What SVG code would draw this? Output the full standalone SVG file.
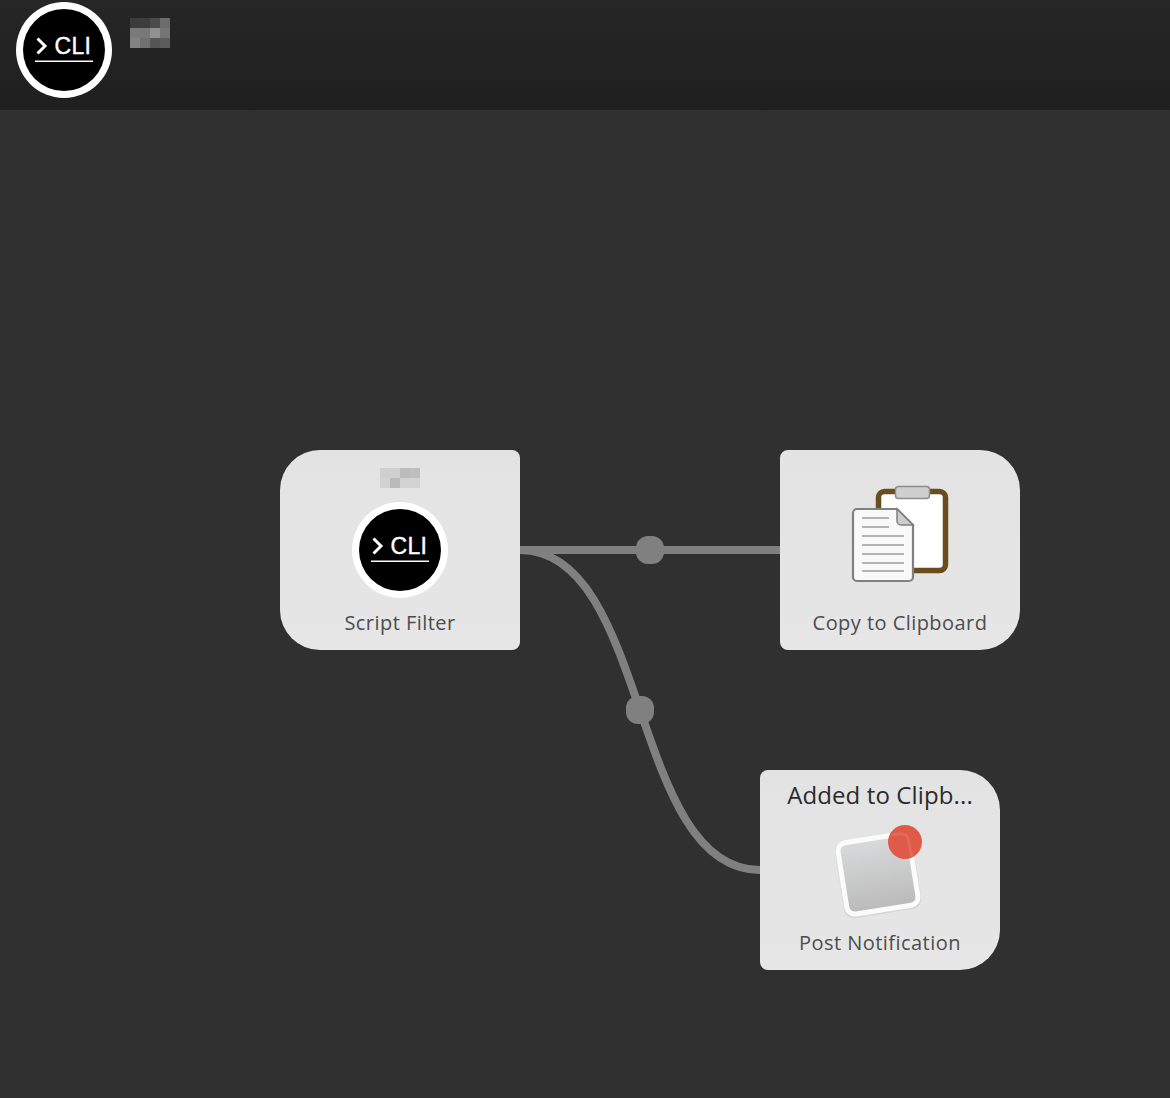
<svg xmlns="http://www.w3.org/2000/svg" width="1170" height="1098" viewBox="0 0 1170 1098">
<style>
.node{fill:url(#nodeFill)}
.wire{fill:none;stroke:#808080;stroke-width:8}
.knob{fill:#808080}
.label{font-family:"Open Sans","Liberation Sans",sans-serif;font-size:20px;fill:#4d4d4d;text-anchor:middle;letter-spacing:.45px}
.title{font-family:"Open Sans","Liberation Sans",sans-serif;font-size:24px;fill:#2b2b2b;text-anchor:middle;letter-spacing:.12px}
.cli{font-family:"Liberation Sans",Arial,sans-serif;font-size:23px;fill:#fff;stroke:#fff;stroke-width:.4;letter-spacing:.3px}
.chev{fill:none;stroke:#fff;stroke-width:3}
.rule{stroke:#fff;stroke-width:1.600}
.doc{stroke:#b4b4b4;stroke-width:2.200}
</style>
<defs>
<linearGradient id="head" x1="0" y1="0" x2="0" y2="1"><stop offset="0" stop-color="#262626"/><stop offset="1" stop-color="#1f1f1f"/></linearGradient>
<linearGradient id="nodeFill" x1="0" y1="0" x2="0" y2="1"><stop offset="0" stop-color="#e3e3e3"/><stop offset="1" stop-color="#e6e6e6"/></linearGradient>
<linearGradient id="note" x1="0" y1="0" x2="0" y2="1"><stop offset="0" stop-color="#d9dadb"/><stop offset="1" stop-color="#bababa"/></linearGradient>
</defs>
<rect width="1170" height="1098" fill="#303030"/>
<rect width="1170" height="110" fill="url(#head)"/>
<g id="workflow-icon">
<circle cx="64" cy="50" r="48" fill="#fff"/><circle cx="64" cy="50" r="41" fill="#000"/>
<polyline class="chev" points="37.500,38.500 45,46 37.500,53.500"/>
<text class="cli" x="54.500" y="54">CLI</text>
<line class="rule" x1="35" y1="61.200" x2="93" y2="61.200"/>
</g>
<g id="workflow-title-blur">
<rect x="130" y="18" width="10" height="10" fill="#3b3b3b"/><rect x="140" y="18" width="10" height="10" fill="#3d3d3d"/><rect x="150" y="18" width="10" height="10" fill="#4b4b4b"/><rect x="160" y="18" width="10" height="10" fill="#6c6c6c"/>
<rect x="130" y="28" width="10" height="10" fill="#7a7a7a"/><rect x="140" y="28" width="10" height="10" fill="#787878"/><rect x="150" y="28" width="10" height="10" fill="#919191"/><rect x="160" y="28" width="10" height="10" fill="#757575"/>
<rect x="130" y="38" width="10" height="10" fill="#828282"/><rect x="140" y="38" width="10" height="10" fill="#707070"/><rect x="150" y="38" width="10" height="10" fill="#565656"/><rect x="160" y="38" width="10" height="10" fill="#5c5c5c"/>
</g>
<g id="connectors">
<path class="wire" d="M520 550H780"/>
<path class="wire" d="M520 550C650 550 630 870 760 870"/>
<rect class="knob" x="636" y="536" width="28" height="28" rx="12"/>
<rect class="knob" x="626" y="696" width="28" height="28" rx="12"/>
</g>
<g id="script-filter">
<path class="node" d="M320 450H512a8 8 0 0 1 8 8V642a8 8 0 0 1-8 8H320a40 40 0 0 1-40-40V490a40 40 0 0 1 40-40Z"/>
<rect x="380" y="468" width="10" height="10" fill="#cfcfcf"/><rect x="390" y="468" width="10" height="10" fill="#d0d0d0"/><rect x="400" y="468" width="10" height="10" fill="#bcbcbc"/><rect x="410" y="468" width="10" height="10" fill="#bfbfbf"/>
<rect x="380" y="478" width="10" height="10" fill="#d2d2d2"/><rect x="390" y="478" width="10" height="10" fill="#bababa"/><rect x="400" y="478" width="10" height="10" fill="#d2d2d2"/><rect x="410" y="478" width="10" height="10" fill="#d2d2d2"/>
<circle cx="400" cy="550" r="48" fill="#fff"/><circle cx="400" cy="550" r="41" fill="#000"/>
<polyline class="chev" points="373.500,538.500 381,546 373.500,553.500"/>
<text class="cli" x="390.500" y="554">CLI</text>
<line class="rule" x1="371" y1="561.200" x2="429" y2="561.200"/>
<text class="label" x="400" y="630">Script Filter</text>
</g>
<g id="copy-to-clipboard">
<path class="node" d="M788 450H980a40 40 0 0 1 40 40V610a40 40 0 0 1-40 40H788a8 8 0 0 1-8-8V458a8 8 0 0 1 8-8Z"/>
<rect x="878.500" y="491.500" width="67" height="79" rx="6" fill="#fff" stroke="#6b4c1e" stroke-width="5.500"/>
<rect x="895.500" y="486.500" width="34" height="12" rx="3" fill="#cfcfcf" stroke="#8c8c8c" stroke-width="1.500"/>
<path d="M857 509H897L913 525V577a4 4 0 0 1-4 4H857a4 4 0 0 1-4-4V513a4 4 0 0 1 4-4Z" fill="#f9f9f9" stroke="#808080" stroke-width="2.200"/>
<path d="M897 509L913 525H901a4 4 0 0 1-4-4Z" fill="#cdcdcd" stroke="#808080" stroke-width="1.500"/>
<path class="doc" d="M862 518H889M862 527H889M862 536H904M862 545H904M862 554H904M862 563H904M862 571H904"/>
<text class="label" x="900" y="630">Copy to Clipboard</text>
</g>
<g id="post-notification">
<path class="node" d="M768 770H960a40 40 0 0 1 40 40V930a40 40 0 0 1-40 40H768a8 8 0 0 1-8-8V778a8 8 0 0 1 8-8Z"/>
<text class="title" x="880" y="804">Added to Clipb...</text>
<rect x="842" y="838" width="72" height="72" rx="7" transform="rotate(-9 878 874) translate(0 1)" fill="#cfcfcf" opacity=".7" stroke="#cfcfcf" stroke-width="6"/>
<rect x="842" y="838" width="72" height="72" rx="8" transform="rotate(-9 878 874)" fill="url(#note)" stroke="#fbfbfb" stroke-width="5"/>
<circle cx="905" cy="842" r="17" fill="#e05a49"/>
<path d="M892 835C901 833 907 834 908 838L912 857" fill="none" stroke="#e4695a" stroke-width="3"/>
<text class="label" x="880" y="950">Post Notification</text>
</g>
</svg>
